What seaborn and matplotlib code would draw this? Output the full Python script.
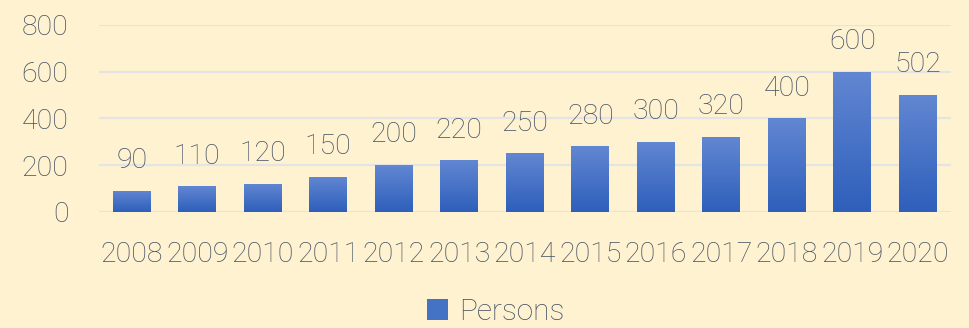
import numpy as np
import matplotlib
matplotlib.use("Agg")
import matplotlib.pyplot as plt
import seaborn as sns
from matplotlib.patches import Patch
from matplotlib.colors import LinearSegmentedColormap

years = ["2008", "2009", "2010", "2011", "2012", "2013", "2014",
         "2015", "2016", "2017", "2018", "2019", "2020"]
persons = [90, 110, 120, 150, 200, 220, 250, 280, 300, 320, 400, 600, 502]
y_ticks = [0, 200, 400, 600, 800]

BG = "#fff2d0"
TEXT = "#435064"
GRID = "#e4e4e4"
BAR_TOP = "#6287d2"
BAR_BOTTOM = "#2e5fbb"
FS = 20.5

sns.set_theme(style="white")
plt.rcParams["font.family"] = ["Roboto", "DejaVu Sans"]
plt.rcParams["font.weight"] = "light"

fig = plt.figure(figsize=(9.7, 3.28), dpi=100, facecolor=BG)
ax = fig.add_axes([0.102, 0.354, 0.878, 0.570], facecolor=BG)

sns.barplot(x=years, y=persons, color=BAR_BOTTOM, width=0.58, ax=ax,
            saturation=1, zorder=3)

ax.set_ylim(0, 800)
ax.set_xlim(-0.5, len(years) - 0.5)
ax.set_yticks(y_ticks)
ax.yaxis.grid(True, color=GRID, linewidth=1.6, zorder=0)
ax.set_axisbelow(True)
for s in ax.spines.values():
    s.set_visible(False)
ax.tick_params(axis="both", length=0, labelsize=FS, labelcolor=TEXT)
ax.tick_params(axis="x", pad=21)
ax.tick_params(axis="y", pad=22)
ax.set_xlabel("")
ax.set_ylabel("")

# vertical gradient fill for each bar
cmap = LinearSegmentedColormap.from_list("bar", [BAR_BOTTOM, BAR_TOP])
grad = np.linspace(0, 1, 256).reshape(-1, 1)
for p in ax.patches:
    x0, y0 = p.get_x(), p.get_y()
    w, h = p.get_width(), p.get_height()
    im = ax.imshow(grad, cmap=cmap, origin="lower", aspect="auto",
                   extent=[x0, x0 + w, y0, y0 + h], zorder=3)
    im.set_clip_path(p)
    p.set_facecolor("none")
    p.set_edgecolor("none")

ax.bar_label(ax.containers[0], labels=[str(v) for v in persons],
             padding=12, fontsize=FS, color=TEXT, zorder=4)
ax.set_xlim(-0.5, len(years) - 0.5)
ax.set_ylim(0, 800)

handle = Patch(facecolor="#4472c4", edgecolor="none")
fig.legend([handle], ["Persons"], loc="center", bbox_to_anchor=(0.511, 0.048),
           frameon=False, fontsize=21.5, labelcolor=TEXT,
           handlelength=0.7, handleheight=0.7, handletextpad=0.35,
           borderpad=0.2)

fig.savefig("out.png", dpi=100, facecolor=BG)
